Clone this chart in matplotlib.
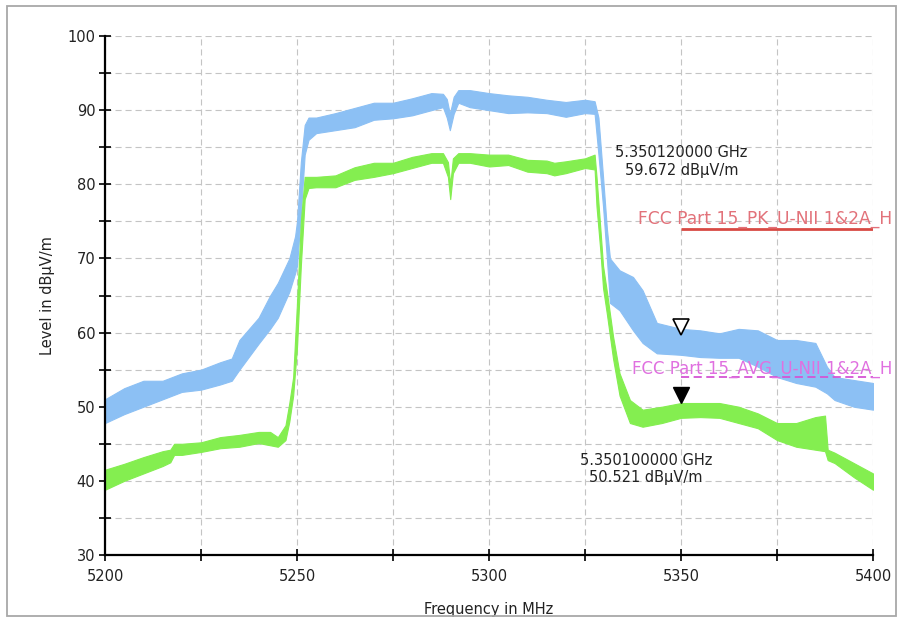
import matplotlib
matplotlib.use("Agg")
import matplotlib.pyplot as plt
import matplotlib.ticker as mticker
from matplotlib.patches import Rectangle
import matplotlib.transforms as mtransforms

# ---------------- data ----------------
# Peak trace (blue): envelope (low / high) of the noisy sweep
freq_pk = [5200, 5205, 5210, 5215, 5220, 5225, 5230, 5233, 5235, 5240, 5243, 5245,
           5248, 5249.5, 5250, 5251, 5252, 5253, 5255, 5260, 5265, 5270, 5275, 5280,
           5285, 5288, 5289, 5289.8, 5290.8, 5292, 5295, 5300, 5305, 5310, 5315, 5320,
           5325, 5327.5, 5328.5, 5329.7, 5330.7, 5331.5, 5334, 5337.5, 5340, 5343.7,
           5350, 5355, 5360, 5365, 5370, 5375, 5380, 5385, 5388, 5390, 5395, 5400]
pk_lo = [47.8, 49.0, 50.0, 51.0, 52.0, 52.3, 53.0, 53.5, 55.0, 58.5, 60.5, 62.0,
         65.5, 68.0, 69.0, 76.0, 84.0, 86.0, 86.9, 87.3, 87.7, 88.7, 88.9, 89.3,
         90.0, 90.4, 89.0, 87.3, 89.5, 91.0, 90.4, 90.0, 89.6, 89.7, 89.6, 89.1,
         89.6, 89.5, 84.0, 77.0, 70.0, 64.0, 63.0, 60.3, 58.6, 57.2,
         57.0, 56.7, 56.6, 56.6, 55.4, 54.0, 53.2, 52.7, 51.8, 50.9, 50.0, 49.6]
pk_hi = [51.0, 52.5, 53.5, 53.5, 54.5, 55.0, 56.0, 56.5, 59.0, 62.0, 65.0, 66.7,
         70.0, 73.0, 75.0, 83.0, 88.0, 89.0, 89.0, 89.6, 90.3, 91.0, 91.0, 91.6,
         92.3, 92.2, 91.5, 89.5, 91.8, 92.7, 92.7, 92.3, 92.0, 91.8, 91.4, 91.1,
         91.4, 91.2, 89.0, 81.0, 74.0, 70.0, 68.4, 67.5, 65.7, 61.3,
         60.5, 60.3, 59.9, 60.5, 60.3, 59.0, 59.0, 58.6, 55.4, 54.0, 53.6, 53.2]

# Average trace (green): envelope (low / high)
freq_av = [5200, 5205, 5210, 5215, 5217, 5218, 5220, 5225, 5230, 5235, 5240, 5243,
           5245, 5247, 5248, 5249, 5250, 5251, 5252, 5253, 5255, 5260, 5265, 5270,
           5275, 5280, 5285, 5288, 5289.3, 5289.9, 5290.6, 5292, 5295, 5300, 5305,
           5310, 5315, 5317, 5320, 5325, 5327.5, 5328, 5329, 5329.7, 5330.7, 5332.3,
           5334, 5336.7, 5340, 5345, 5350, 5355, 5360, 5365, 5370, 5375, 5380, 5385,
           5387.5, 5388.2, 5390, 5395, 5400]
av_lo = [38.8, 40.0, 41.0, 42.0, 42.5, 43.5, 43.5, 43.9, 44.4, 44.6, 45.1, 44.8,
         44.6, 45.5, 48.0, 51.5, 58.0, 69.0, 78.0, 79.5, 79.6, 79.6, 80.6, 81.0,
         81.5, 82.2, 82.9, 82.9, 81.0, 78.0, 81.5, 82.9, 82.9, 82.4, 82.6,
         81.7, 81.5, 81.2, 81.5, 82.2, 82.0, 77.0, 71.0, 66.0, 62.5, 56.5,
         51.5, 47.8, 47.3, 47.8, 48.5, 48.6, 48.5, 47.8, 47.1, 45.5, 44.6, 44.2,
         44.0, 42.8, 42.4, 40.5, 38.8]
av_hi = [41.5, 42.3, 43.2, 44.0, 44.2, 45.0, 45.0, 45.2, 45.9, 46.2, 46.6, 46.6,
         45.9, 47.5, 50.5, 54.0, 64.0, 75.0, 81.0, 81.0, 81.0, 81.2, 82.3, 82.9,
         82.9, 83.7, 84.2, 84.2, 83.0, 80.0, 83.5, 84.2, 84.2, 84.0, 84.0,
         83.3, 83.2, 82.9, 83.1, 83.5, 84.0, 81.0, 74.0, 69.0, 65.5, 59.5,
         54.5, 50.9, 49.6, 50.0, 50.5, 50.5, 50.5, 50.0, 49.1, 47.8, 47.8, 48.6,
         48.8, 44.2, 43.8, 42.4, 41.0]

# Limit lines
limit_freq = [5350, 5400]
pk_limit = [74, 74]
avg_limit = [54, 54]
pk_limit_name = "FCC Part 15_PK_U-NII 1&2A_H"
avg_limit_name = "FCC Part 15_AVG_U-NII 1&2A_H"

# Markers (frequency in MHz, level in dBuV/m)
mk_freq = [5350.12, 5350.10]
mk_level = [59.672, 50.521]

x_ticks = [5200, 5225, 5250, 5275, 5300, 5325, 5350, 5375, 5400]
y_ticks = [30, 35, 40, 45, 50, 55, 60, 65, 70, 75, 80, 85, 90, 95, 100]

# ---------------- figure ----------------
plt.rcParams['font.family'] = ['DejaVu Sans']
fig = plt.figure(figsize=(9.02, 6.19), dpi=100)
W, H = 902, 619
ax = fig.add_axes([105 / W, 1 - 555 / H, (873 - 105) / W, (555 - 36) / H])

blue = '#8cc0f4'
green = '#84ee50'

ax.fill_between(freq_pk, pk_lo, pk_hi, color=blue, lw=0.8, edgecolor=blue, zorder=3)
ax.fill_between(freq_av, av_lo, av_hi, color=green, lw=0.8, edgecolor=green, zorder=4)

# limit lines
ax.plot(limit_freq, pk_limit, color='#d84a44', lw=2.0, zorder=5, solid_capstyle='butt')
ax.plot(limit_freq, avg_limit, color='#d455d4', lw=1.3, zorder=5,
        linestyle=(0, (4.5, 2.5)))
ax.text(5405.0, pk_limit[0] + 1.3, pk_limit_name, color='#e2727a', fontsize=12.3,
        ha='right', va='center', clip_on=False, zorder=6)
ax.text(5405.0, avg_limit[0] + 1.1, avg_limit_name, color='#e070e0', fontsize=12.0,
        ha='right', va='center', clip_on=False, zorder=6)

# markers
off = mtransforms.offset_copy(ax.transData, fig=fig, x=0, y=6, units='points')
ax.plot([mk_freq[0]], [mk_level[0]], marker='v', ms=11, mfc='white', mec='black',
        mew=1.2, transform=off, zorder=7, linestyle='none')
ax.plot([mk_freq[1]], [mk_level[1]], marker='v', ms=11, mfc='black', mec='black',
        transform=off, zorder=7, linestyle='none')

txtc = '#222222'
ax.text(mk_freq[0], 84.3, f"{mk_freq[0] / 1000:.9f} GHz", ha='center', va='center',
        fontsize=10.5, color=txtc, zorder=8)
ax.text(mk_freq[0], 81.9, f"{mk_level[0]:.3f} dB\u03bcV/m", ha='center', va='center',
        fontsize=10.5, color=txtc, zorder=8)
ax.text(mk_freq[1] - 9.2, 42.7, f"{mk_freq[1] / 1000:.9f} GHz", ha='center', va='center',
        fontsize=10.5, color=txtc, zorder=8)
ax.text(mk_freq[1] - 9.2, 40.4, f"{mk_level[1]:.3f} dB\u03bcV/m", ha='center', va='center',
        fontsize=10.5, color=txtc, zorder=8)

# axes
ax.set_xlim(5200, 5400)
ax.set_ylim(30, 100)
ax.set_xticks(x_ticks)
ax.set_yticks(y_ticks)
ax.xaxis.set_major_formatter(mticker.FuncFormatter(lambda v, p: f"{int(v)}" if int(v) % 50 == 0 else ""))
ax.yaxis.set_major_formatter(mticker.FuncFormatter(lambda v, p: f"{int(v)}" if int(v) % 10 == 0 else ""))
ax.tick_params(direction='inout', length=8, width=1.2, color='black', labelsize=10.5,
               labelcolor='#222222')
ax.tick_params(axis='x', pad=6)
ax.tick_params(axis='y', pad=3)

for s in ['top', 'right']:
    ax.spines[s].set_visible(False)
for s in ['left', 'bottom']:
    ax.spines[s].set_linewidth(1.6)
    ax.spines[s].set_color('black')
    ax.spines[s].set_zorder(10)

ax.grid(True, color='#c4c4c4', lw=0.8, linestyle=(0, (5.5, 3.5)), zorder=1)
ax.set_axisbelow(True)

ax.set_xlabel("Frequency in MHz", fontsize=10.5, color='#222222', labelpad=13)
ax.set_ylabel("Level in dB\u03bcV/m", fontsize=10.5, color='#222222', labelpad=9)

# outer frame
fig.patches.append(Rectangle((7 / W, 1 - 616 / H), (896 - 7) / W, (616 - 6) / H,
                             transform=fig.transFigure, fill=False,
                             edgecolor='#a8a8a8', lw=1.3, zorder=0))

fig.savefig("out.png", dpi=100)
